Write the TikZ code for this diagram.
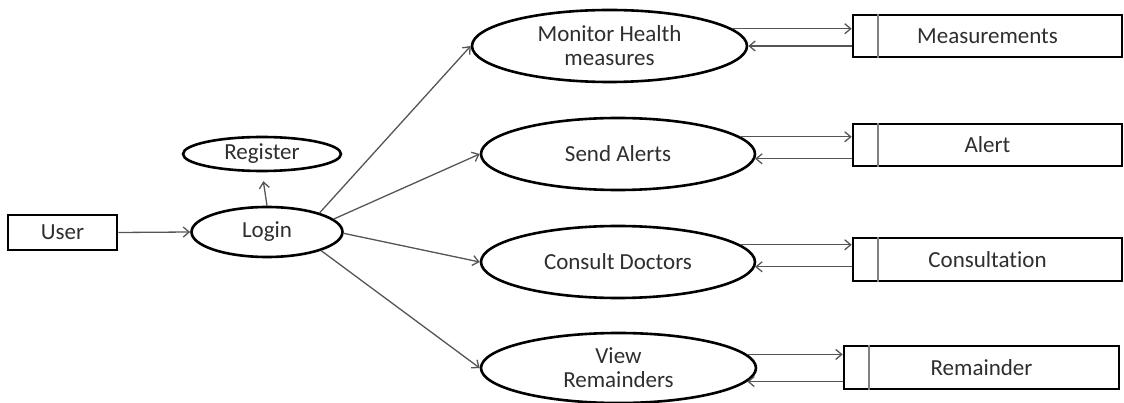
\documentclass[tikz,border=0pt]{standalone}
\usepackage{fontspec}
\setmainfont{Carlito}[Ligatures=NoCommon]
\usetikzlibrary{arrows.meta,shapes.geometric}
\definecolor{txt}{HTML}{2E2E2E}
\definecolor{ln}{HTML}{555555}
\tikzset{
  lbl/.style={text=txt, font=\fontsize{23}{24}\selectfont},
  uc/.style={ellipse, draw=black, line width=2.6pt, inner sep=0pt, align=center, lbl},
  store/.style={rectangle, draw=black, line width=2.6pt, inner sep=0pt, lbl},
  actor/.style={rectangle, draw=black, line width=2.6pt, inner sep=0pt, lbl},
  arr/.style={draw=ln, line width=1.3pt, -{Straight Barb[length=6pt,width=10pt]}},
  divider/.style={draw=gray, line width=1.6pt}
}
\begin{document}
\begin{tikzpicture}[x=1pt,y=-1pt]
\useasboundingbox (0,0) rectangle (1124,403);
% actor and login
\node[actor, minimum width=109pt, minimum height=35pt] (user) at (62.5,232.5) {User};
\node[uc, minimum width=151pt, minimum height=50pt] (login) at (267,232) {Login};
\node[uc, minimum width=158pt, minimum height=34pt] (reg) at (262,154) {Register};
% use cases
\node[uc, minimum width=275pt, minimum height=72pt] (mon) at (609.5,46) {Monitor Health\\measures};
\node[uc, minimum width=274pt, minimum height=72pt] (alerts) at (618,154) {Send Alerts};
\node[uc, minimum width=274pt, minimum height=72pt] (cons) at (618,262) {Consult Doctors};
\node[uc, minimum width=275pt, minimum height=70pt] (view) at (618.5,368) {View\\Remainders};
% data stores
\node[store, minimum width=269pt, minimum height=42pt] (meas) at (987.5,36) {Measurements};
\node[store, minimum width=269pt, minimum height=42pt] (alert) at (987.5,145) {Alert};
\node[store, minimum width=269pt, minimum height=43pt] (consn) at (987.5,259.5) {Consultation};
\node[store, minimum width=275pt, minimum height=43pt] (rem) at (981.5,367.5) {Remainder};
\foreach \s in {meas,alert,consn,rem}
  \draw[divider] ([xshift=26pt]\s.north west) -- ([xshift=26pt]\s.south west);
% connectors
\draw[arr] (user.east) -- (login.west);
\draw[arr, shorten >=9pt] (login.north) -- (reg.south);
\draw[arr] (login.20) -- (mon.west);
\draw[arr] (login.11) -- (alerts.west);
\draw[arr] (login.-1) -- (cons.west);
\draw[arr] (login.-19) -- (view.west);
% use case <-> store
\draw[arr] (mon.8.6) -- (mon.8.6 -| meas.west);
\draw[arr] (mon.east -| meas.west) -- (mon.east);
\draw[arr] (alerts.8.6) -- (alerts.8.6 -| alert.west);
\draw[arr] (alerts.-2.5 -| alert.west) -- (alerts.-2.5);
\draw[arr] (cons.8.6) -- (cons.8.6 -| consn.west);
\draw[arr] (cons.-2.9 -| consn.west) -- (cons.-2.9);
\draw[arr] (view.6.9) -- (view.6.9 -| rem.west);
\draw[arr] (view.-6.9 -| rem.west) -- (view.-6.9);
\end{tikzpicture}
\end{document}
